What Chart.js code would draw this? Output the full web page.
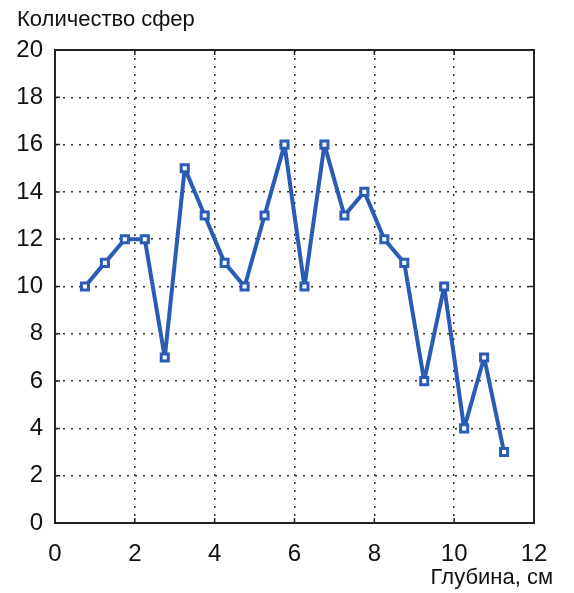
<!DOCTYPE html>
<html>
<head>
<meta charset="utf-8">
<script src="https://cdn.jsdelivr.net/npm/chart.js@4"></script>
<style>
  html, body { margin: 0; padding: 0; background: #fff; }
  #wrap { width: 574px; height: 593px; position: relative; }
</style>
</head>
<body>
<div id="wrap"><canvas id="chart" width="574" height="593"></canvas></div>
<script>
// depth, cm
let depth = [0.75, 1.25, 1.75, 2.25, 2.75, 3.25, 3.75, 4.25, 4.75, 5.25, 5.75,
             6.25, 6.75, 7.25, 7.75, 8.25, 8.75, 9.25, 9.75, 10.25, 10.75, 11.25];
// number of spheres
let spheres = [10, 11, 12, 12, 7, 15, 13, 11, 10, 13, 16,
               10, 16, 13, 14, 12, 11, 6, 10, 4, 7, 3];

let yTitle = 'Количество сфер';
let xTitle = 'Глубина, см';

const fontName = "'Liberation Sans', Arial, sans-serif";
const lineColor = '#2a5bb5';

let points = depth.map((d, i) => ({ x: d, y: spheres[i] }));

// frame, short inner ticks and the two axis captions
const framePlugin = {
    id: 'frame',
    afterDraw(chart) {
        const ctx = chart.ctx;
        const a = chart.chartArea;
        const xs = chart.scales.x;
        const ys = chart.scales.y;
        ctx.save();
        ctx.strokeStyle = '#222';
        ctx.lineWidth = 2;
        ctx.strokeRect(a.left, a.top, a.right - a.left, a.bottom - a.top);

        ctx.lineWidth = 1.5;
        ctx.beginPath();
        for (let v = 2; v < 12; v += 2) {
            let px = xs.getPixelForValue(v);
            ctx.moveTo(px, a.bottom); ctx.lineTo(px, a.bottom - 5);
            ctx.moveTo(px, a.top); ctx.lineTo(px, a.top + 5);
        }
        for (let v = 2; v < 20; v += 2) {
            let py = ys.getPixelForValue(v);
            ctx.moveTo(a.left, py); ctx.lineTo(a.left + 5, py);
            ctx.moveTo(a.right, py); ctx.lineTo(a.right - 5, py);
        }
        ctx.stroke();

        ctx.fillStyle = '#111';
        ctx.font = '22px ' + fontName;
        ctx.textBaseline = 'middle';
        ctx.textAlign = 'left';
        ctx.fillText(yTitle, 17, 20);
        ctx.textAlign = 'right';
        ctx.fillText(xTitle, 553, 578);
        ctx.restore();
    }
};

new Chart(document.getElementById('chart').getContext('2d'), {
    type: 'line',
    data: {
        datasets: [{
            data: points,
            borderColor: lineColor,
            borderWidth: 4,
            borderJoinStyle: 'round',
            pointStyle: 'rect',
            pointRadius: 5,
            pointBorderWidth: 3,
            pointBorderColor: lineColor,
            pointBackgroundColor: '#fff',
            tension: 0,
            fill: false
        }]
    },
    options: {
        responsive: false,
        animation: false,
        devicePixelRatio: 1,
        layout: { padding: { left: 0, right: 40, top: 50, bottom: 0 } },
        plugins: {
            legend: { display: false },
            tooltip: { enabled: false }
        },
        scales: {
            x: {
                type: 'linear',
                min: 0,
                max: 12,
                afterFit(scale) { scale.height = 70; },
                ticks: {
                    stepSize: 2,
                    padding: 17,
                    color: '#111',
                    font: { family: fontName, size: 24 }
                },
                grid: {
                    color: '#333',
                    lineWidth: 1.5,
                    drawTicks: false
                },
                border: { display: false, dash: [2, 6] }
            },
            y: {
                min: 0,
                max: 20,
                afterFit(scale) { scale.width = 55; },
                ticks: {
                    stepSize: 2,
                    padding: 12,
                    color: '#111',
                    font: { family: fontName, size: 24 }
                },
                grid: {
                    color: '#333',
                    lineWidth: 1.5,
                    drawTicks: false
                },
                border: { display: false, dash: [2, 6] }
            }
        }
    },
    plugins: [framePlugin]
});
</script>
</body>
</html>
